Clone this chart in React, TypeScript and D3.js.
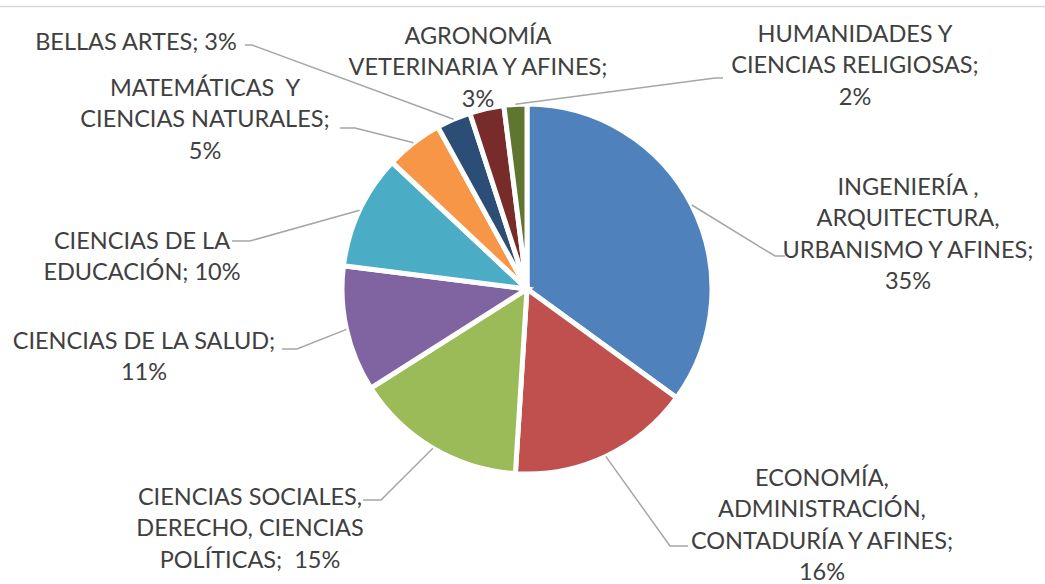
import React from 'react';
import * as d3 from 'd3';

// areas de conocimiento, in the order Excel draws them (clockwise from 12 o'clock)
const categories = [
  'INGENIERÍA, ARQUITECTURA, URBANISMO Y AFINES',
  'ECONOMÍA, ADMINISTRACIÓN, CONTADURÍA Y AFINES',
  'CIENCIAS SOCIALES, DERECHO, CIENCIAS POLÍTICAS',
  'CIENCIAS DE LA SALUD',
  'CIENCIAS DE LA EDUCACIÓN',
  'MATEMÁTICAS Y CIENCIAS NATURALES',
  'BELLAS ARTES',
  'AGRONOMÍA VETERINARIA Y AFINES',
  'HUMANIDADES Y CIENCIAS RELIGIOSAS',
];
const percents = [35, 16, 15, 11, 10, 5, 3, 3, 2];
const labelLines = [
  ['INGENIERÍA ,', 'ARQUITECTURA,', 'URBANISMO Y AFINES;', '35%'],
  ['ECONOMÍA,', 'ADMINISTRACIÓN,', 'CONTADURÍA Y AFINES;', '16%'],
  ['CIENCIAS SOCIALES,', 'DERECHO, CIENCIAS', 'POLÍTICAS;  15%'],
  ['CIENCIAS DE LA SALUD;', '11%'],
  ['CIENCIAS DE LA', 'EDUCACIÓN; 10%'],
  ['MATEMÁTICAS  Y', 'CIENCIAS NATURALES;', '5%'],
  ['BELLAS ARTES; 3%'],
  ['AGRONOMÍA', 'VETERINARIA Y AFINES;', '3%'],
  ['HUMANIDADES Y', 'CIENCIAS RELIGIOSAS;', '2%'],
];
const colors = ['#4F81BD', '#C0504D', '#9BBB59', '#8064A2', '#4BACC6', '#F79646', '#2C4D75', '#772C2A', '#5F7530'];

// label placement: text centre x, first baseline, and leader elbow/end (null = no leader)
const labelLayout = [
  { x: 908, y: 195, elbow: [775, 256], end: [785, 256] },
  { x: 822, y: 486, elbow: [670, 546], end: [688, 546] },
  { x: 250, y: 505, elbow: [381, 500], end: [363, 500] },
  { x: 144, y: 349, elbow: [297, 349], end: [282, 349] },
  { x: 142, y: 249, elbow: [250, 241], end: [232, 241] },
  { x: 205, y: 96, elbow: [355, 128], end: [340, 128] },
  { x: 136, y: 50, elbow: [252, 45], end: [245, 45] },
  { x: 478, y: 44, elbow: null, end: null },
  { x: 855, y: 42, elbow: [715, 78], end: [723, 78] },
];

const W = 1045;
const H = 584;
const cx = 527;
const cy = 289;
const radius = 185;
const lineH = 31.3;

export default function App() {
  const pie = d3.pie<number>().sort(null).value(d => d);
  const slices = pie(percents);
  const arc = d3.arc<d3.PieArcDatum<number>>().innerRadius(0).outerRadius(radius);

  const edgePoint = (s: d3.PieArcDatum<number>) => {
    const a = (s.startAngle + s.endAngle) / 2;
    return [cx + radius * Math.sin(a), cy - radius * Math.cos(a)];
  };

  return (
    <svg width={W} height={H} style={{ position: 'absolute', left: 0, top: 0, background: '#fff' }}>
      <line x1={0} x2={W} y1={6.5} y2={6.5} stroke="#d9d9d9" strokeWidth={1.5} />
      <g transform={`translate(${cx},${cy})`}>
        {slices.map((s, i) => (
          <path key={categories[i]} d={arc(s) || ''} fill={colors[i]} stroke="#fff" strokeWidth={5} strokeLinejoin="miter" />
        ))}
      </g>
      {slices.map((s, i) => {
        const lay = labelLayout[i];
        if (!lay.elbow || !lay.end) return null;
        const p = edgePoint(s);
        const pts = [p, lay.elbow, lay.end].map(q => q.join(',')).join(' ');
        return <polyline key={'l' + i} points={pts} fill="none" stroke="#a6a6a6" strokeWidth={1.5} />;
      })}
      {labelLines.map((lines, i) => (
        <text key={'t' + i} fontFamily="Lato, 'Open Sans', sans-serif" fontSize={23.5} fill="#404040" textAnchor="middle" style={{ whiteSpace: 'pre' }}>
          {lines.map((ln, j) => (
            <tspan key={j} x={labelLayout[i].x} y={labelLayout[i].y + j * lineH}>{ln}</tspan>
          ))}
        </text>
      ))}
    </svg>
  );
}
